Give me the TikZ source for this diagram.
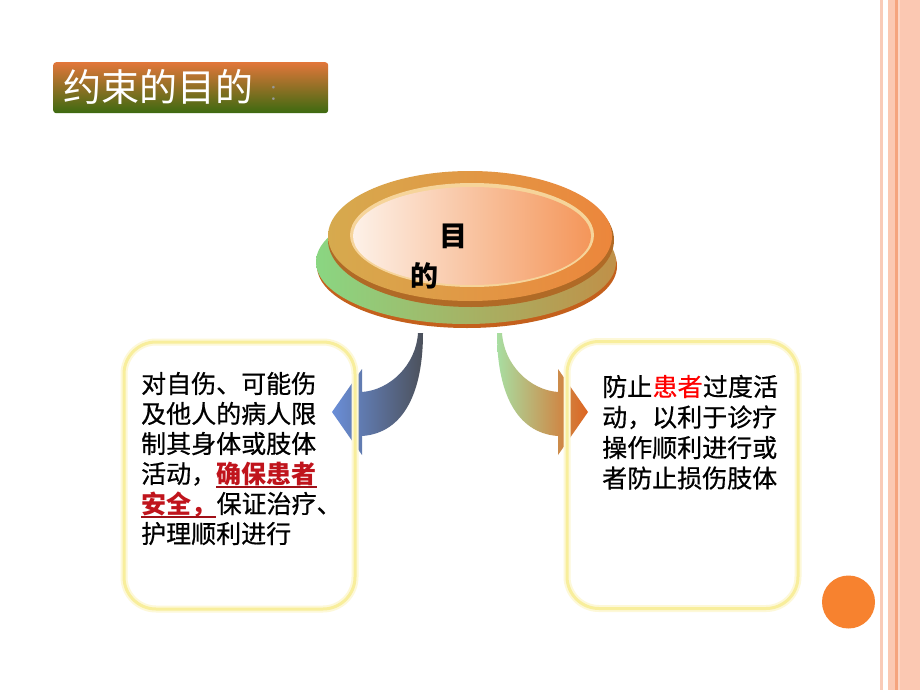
\documentclass[tikz,border=0pt]{standalone}
\usepackage{fontspec}
\newfontfamily\cjk{Noto Sans CJK SC}
\newfontfamily\cjkbody{Noto Sans CJK SC}[FakeBold=0.6]
\usetikzlibrary{shapes.geometric}
\definecolor{stripeA}{HTML}{F9CBB8}
\definecolor{stripeB}{HTML}{FBC8B2}
\definecolor{stripeC}{HTML}{F5A47E}
\definecolor{stripeD}{HTML}{FCD6C6}
\definecolor{titleTop}{HTML}{E2763A}
\definecolor{titleMid}{HTML}{A4602A}
\definecolor{titleBot}{HTML}{3C6A10}
\definecolor{boxLine}{HTML}{F8EE9C}
\definecolor{boxGlow}{HTML}{FDF8D8}
\definecolor{darkred}{HTML}{C0141C}
\definecolor{ulred}{HTML}{A01018}
\definecolor{brightred}{HTML}{FF0000}
\definecolor{dotOrange}{HTML}{F7822F}
\definecolor{rimBrown}{HTML}{C4601C}
\definecolor{greenL}{HTML}{8AD682}
\definecolor{greenR}{HTML}{C09048}
\definecolor{bevel}{HTML}{B06A26}
\definecolor{ringL}{HTML}{D6AA4E}
\definecolor{ringR}{HTML}{EC863C}
\definecolor{rimLight}{HTML}{F6D49A}
\definecolor{faceL}{HTML}{FDF1E8}
\definecolor{faceR}{HTML}{F4965A}
\definecolor{arrBlue}{HTML}{6A8ED8}
\definecolor{arrMid}{HTML}{5C6E9C}
\definecolor{arrGray}{HTML}{4C515B}
\definecolor{arrGreen}{HTML}{A8DEA2}
\definecolor{arrTan}{HTML}{C8A070}
\definecolor{arrOrange}{HTML}{DE6420}
\tikzset{
  bt/.style={anchor=base west, inner sep=0pt, font=\cjkbody\fontsize{25}{30}\selectfont},
  rt/.style={bt, font=\cjk\bfseries\fontsize{25}{30}\selectfont, text=darkred},
  ul/.style={draw=ulred, line width=1.5pt},
  textbox/.style={draw=boxLine, line width=3pt, rounded corners=32pt, minimum width=231pt, minimum height=267pt, inner sep=0pt},
  glowbox/.style={draw=boxGlow, line width=7pt, rounded corners=32pt, minimum width=231pt, minimum height=267pt, inner sep=0pt},
  disktext/.style={anchor=base west, inner sep=0pt, font=\cjk\bfseries\fontsize{28}{28}\selectfont}
}
\begin{document}
\begin{tikzpicture}[x=1pt,y=-1pt]
\useasboundingbox (0,0) rectangle (920,690);
\fill[white] (0,0) rectangle (920,690);

% right-hand stripes
\fill[stripeA] (880,0) rectangle (883,690);
\fill[stripeB] (888,0) rectangle (920,690);
\fill[stripeC] (895,0) rectangle (897.5,690);
\fill[stripeD] (897.5,0) rectangle (900,690);

% title
\node[anchor=north west, minimum width=275pt, minimum height=51pt, rounded corners=3pt,
      top color=titleTop, middle color=titleMid, bottom color=titleBot, inner sep=0pt] (tbox) at (53,62) {};
\node[anchor=base west, inner sep=0pt, text=white, font=\cjk\fontsize{38}{40}\selectfont] (title) at (63,102) {约束的目的};
\node[anchor=base, inner sep=0pt, text=gray!80, font=\fontsize{33}{33}\selectfont] (colon) at (273.5,100.5) {:};

% disk
\fill[rimBrown] (467,266) ellipse [x radius=150, y radius=62];
\shade[left color=greenL, right color=greenR] (466,262) ellipse [x radius=150, y radius=62];
\fill[bevel] (471,240) ellipse [x radius=143, y radius=67];
\shade[left color=ringL, right color=ringR] (470,236) ellipse [x radius=142, y radius=65];
\fill[rimLight] (472,235) ellipse [x radius=122, y radius=52];
\shade[shading angle=80, left color=faceL, right color=faceR] (472,236) ellipse [x radius=119, y radius=49];
\node[disktext] (m1) at (439,246) {目};
\node[disktext] (m2) at (410,286) {的};

% curved arrows
\shade[left color=arrBlue, middle color=arrMid, right color=arrGray]
  (423,333) .. controls (423,390) and (405,433) .. (362,436)
  -- (362,455) -- (332,412) -- (362,369) -- (362,392)
  .. controls (390,390) and (416,365) .. (418,333) -- cycle;
\shade[left color=arrGreen, middle color=arrTan, right color=arrOrange]
  (497,333) .. controls (497,390) and (515,433) .. (558,436)
  -- (558,455) -- (588,412) -- (558,369) -- (558,392)
  .. controls (530,390) and (504,365) .. (502,333) -- cycle;

% boxes
\node[glowbox] (lglow) at (239.5,475.5) {};
\node[textbox] (lbox) at (239.5,475.5) {};
\node[glowbox] (rglow) at (682.5,475) {};
\node[textbox] (rbox) at (682.5,475) {};

% left text
\node[bt] (l1) at (141,393) {对自伤、可能伤};
\node[bt] (l2) at (141,423) {及他人的病人限};
\node[bt] (l3) at (141,453) {制其身体或肢体};
\node[bt] (l4) at (141,483) {活动，};
\node[rt] (l4r) at (l4.base east) {确保患者};
\node[rt] (l5r) at (141,513) {安全，};
\node[bt] (l5) at (l5r.base east) {保证治疗、};
\node[bt] (l6) at (141,543) {护理顺利进行};
\draw[ul] ([yshift=-4pt]l4r.base west) -- ([yshift=-4pt]l4r.base east);
\draw[ul] ([yshift=-4pt]l5r.base west) -- ([yshift=-4pt]l5r.base east);

% right text
\node[bt] (r1) at (602,396) {防止};
\node[bt, text=brightred] (r1r) at (r1.base east) {患者};
\node[bt] (r1b) at (r1r.base east) {过度活};
\node[bt] (r2) at (602,426.5) {动，以利于诊疗};
\node[bt] (r3) at (602,457) {操作顺利进行或};
\node[bt] (r4) at (602,487.5) {者防止损伤肢体};

% orange dot
\node[circle, fill=dotOrange, minimum size=53pt, inner sep=0pt] (dot) at (848.5,602) {};
\end{tikzpicture}
\end{document}
